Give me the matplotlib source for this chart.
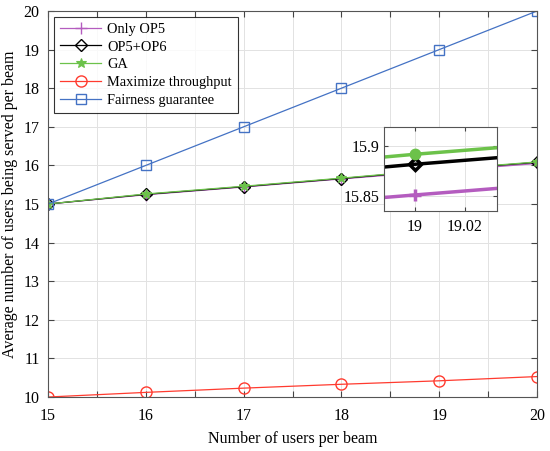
import numpy as np
import matplotlib
matplotlib.use('Agg')
import matplotlib.pyplot as plt

plt.rcParams['font.family'] = ['Liberation Serif', 'DejaVu Serif']
plt.rcParams['mathtext.fontset'] = 'stix'

# data
users = [15, 16, 17, 18, 19, 20]
only_op5 = [15.0, 15.24, 15.44, 15.65, 15.8507, 16.05]
op5_op6 = [15.0, 15.25, 15.45, 15.66, 15.8814, 16.08]
ga = [15.0, 15.26, 15.46, 15.67, 15.8914, 16.09]
max_thr = [10.0, 10.12, 10.23, 10.33, 10.42, 10.53]
fairness = [15, 16, 17, 18, 19, 20]

c_purple = '#b45cbf'
c_black = '#000000'
c_green = '#6cc24a'
c_red = '#ff3b2f'
c_blue = '#4472c4'

fig = plt.figure(figsize=(5.5, 4.51), dpi=100)
ax = fig.add_axes([0.0873, 0.1197, 0.8891, 0.8559])

ax.plot(users, only_op5, color=c_purple, lw=0.9, marker='+', ms=8, mew=1, label='Only OP5')
ax.plot(users, op5_op6, color=c_black, lw=0.9, marker='D', ms=6, mfc='none', mew=1, label='OP5+OP6')
ax.plot(users, ga, color=c_green, lw=0.9, marker='*', ms=7, mew=0.8, label='GA')
ax.plot(users, max_thr, color=c_red, lw=0.9, marker='o', ms=8, mfc='none', mew=1, label='Maximize throughput')
ax.plot(users, fairness, color=c_blue, lw=0.9, marker='s', ms=6.5, mfc='none', mew=1, label='Fairness guarantee')

ax.set_xlim(15, 20)
ax.set_ylim(10, 20)
xt = np.arange(15, 20.01, 0.5)
ax.set_xticks(xt)
ax.set_xticklabels([str(int(v)) if v == int(v) else '' for v in xt])
ax.set_yticks(np.arange(10, 21, 1))
ax.tick_params(direction='in', top=True, right=True, labelsize=11.5, length=4, color='#444444')
ax.tick_params(axis='x', pad=8)
ax.tick_params(axis='y', pad=6)
ax.grid(True, color='#e2e2e2', lw=0.7)
for s in ax.spines.values():
    s.set_color('#555555')
    s.set_linewidth(0.8)
ax.set_xlabel('Number of users per beam', fontsize=11.5, labelpad=5)
ax.set_ylabel('Average number of users being served per beam', fontsize=11.5, labelpad=4)

leg = ax.legend(loc='upper left', fontsize=10.4, frameon=True, fancybox=False,
                edgecolor='black', borderaxespad=0.4, handlelength=2.9,
                handletextpad=0.4, labelspacing=0.33, borderpad=0.4)
leg.get_frame().set_linewidth(0.8)

# zoomed inset
ins = fig.add_axes([0.6987, 0.5322, 0.2044, 0.1869])
ins.plot(users, only_op5, color=c_purple, lw=2.5, marker='+', ms=9, mew=2.5)
ins.plot(users, op5_op6, color=c_black, lw=2.5, marker='D', ms=6, mfc='none', mew=2.5)
ins.plot(users, ga, color=c_green, lw=2.5, marker='o', ms=6, mew=2.5)
ins.set_xlim(18.9877, 19.0329)
ins.set_ylim(15.8347, 15.919)
ins.set_xticks([19, 19.02])
ins.set_xticklabels(['19', '19.02'])
ins.set_yticks([15.85, 15.9])
ins.set_yticklabels(['15.85', '15.9'])
ins.tick_params(direction='in', top=True, right=True, labelsize=11.5, length=3, color='#444444')
ins.tick_params(axis='x', pad=6)
ins.grid(True, color='#e2e2e2', lw=0.7)
for s in ins.spines.values():
    s.set_color('#555555')
    s.set_linewidth(0.8)

fig.savefig('out.png', dpi=100)
